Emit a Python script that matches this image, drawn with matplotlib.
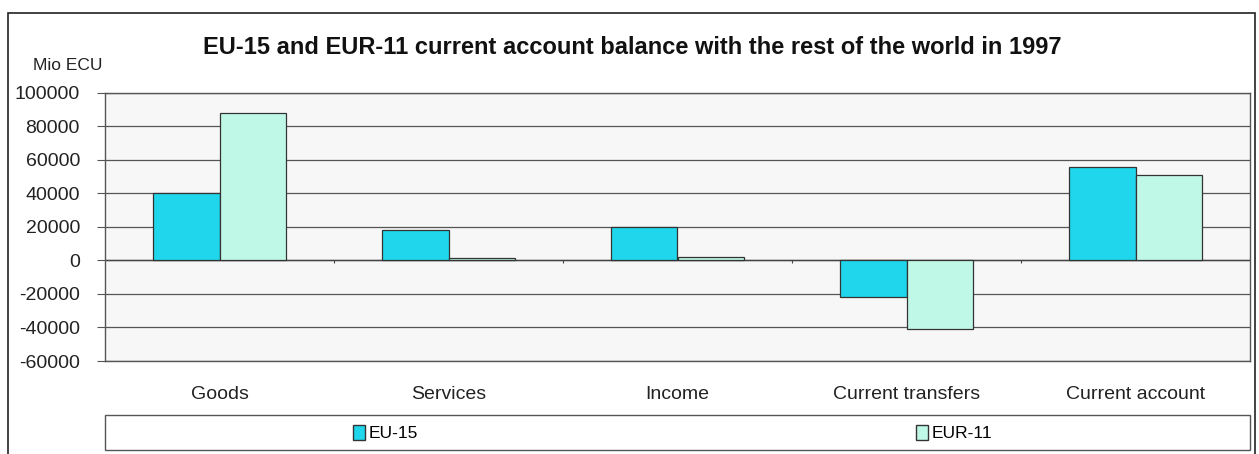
import numpy as np
import matplotlib.pyplot as plt
from matplotlib.patches import Rectangle, Patch

plt.rcParams['font.family'] = ['Liberation Sans', 'DejaVu Sans']

categories = ["Goods", "Services", "Income", "Current transfers", "Current account"]
eu15 = [40000, 18000, 20000, -21500, 56000]
eur11 = [88000, 1500, 2000, -41000, 51000]
yticks = [-60000, -40000, -20000, 0, 20000, 40000, 60000, 80000, 100000]

col_eu15 = "#1fd6ec"
col_eur11 = "#c0f8e8"

fig = plt.figure(figsize=(12.59, 4.54), dpi=100)
fig.patch.set_facecolor("white")
ax = fig.add_axes([105 / 1259, 1 - 361 / 454, (1250 - 105) / 1259, (361 - 93) / 454])
ax.set_facecolor("#f7f7f7")

x = np.arange(len(categories))
w = 0.29
ax.bar(x - w / 2, eu15, w, color=col_eu15, edgecolor="#333333", linewidth=0.9, zorder=3)
ax.bar(x + w / 2, eur11, w, color=col_eur11, edgecolor="#333333", linewidth=0.9, zorder=3)

ax.set_xlim(-0.5, len(categories) - 0.5)
ax.set_ylim(-60000, 100000)
ax.set_yticks(yticks)
ax.set_yticklabels([str(v) for v in yticks], fontsize=14, color="#222222")
ax.yaxis.grid(True, color="#555555", linewidth=0.9, zorder=1)
ax.axhline(0, color="#444444", linewidth=1.0, zorder=2)
# small category separator ticks on the zero line
ax.vlines(x[:-1] + 0.5, -1500, 0, color="#444444", linewidth=0.8, zorder=2)

ax.set_xticks(x)
ax.set_xticklabels(categories, fontsize=14, color="#222222")
ax.tick_params(axis="x", length=0, pad=18)
ax.tick_params(axis="y", length=6, color="#555555", pad=12)
for s in ax.spines.values():
    s.set_color("#555555")
    s.set_linewidth(1.0)

fig.text(632 / 1259, 1 - 48 / 454, "EU-15 and EUR-11 current account balance with the rest of the world in 1997",
         ha="center", va="center", fontsize=17, fontweight="bold", color="#111111")
fig.text(33 / 1259, 1 - 66 / 454, "Mio ECU", ha="left", va="center", fontsize=12.5, color="#222222")

# legend box
fig.add_artist(Rectangle((105 / 1259, 1 - 450 / 454), (1250 - 105) / 1259, 35 / 454,
                         transform=fig.transFigure, facecolor="white", edgecolor="#555555", linewidth=1.0))
handles = [Patch(facecolor=col_eu15, edgecolor="#333333", label="EU-15"),
           Patch(facecolor=col_eur11, edgecolor="#333333", label="EUR-11")]
fig.legend(handles=handles, loc="center left", bbox_to_anchor=(344 / 1259, 1 - 433 / 454), ncol=2,
           frameon=False, fontsize=12.5, handlelength=0.7, handleheight=1.0, handletextpad=0.2,
           columnspacing=28.7, borderpad=0)

# outer frame
fig.add_artist(Rectangle((8 / 1259, -0.01), (1255 - 8) / 1259, 1 - 13 / 454 + 0.01,
                         transform=fig.transFigure, facecolor="none", edgecolor="#222222", linewidth=1.2))

fig.savefig("out.png", dpi=100)
